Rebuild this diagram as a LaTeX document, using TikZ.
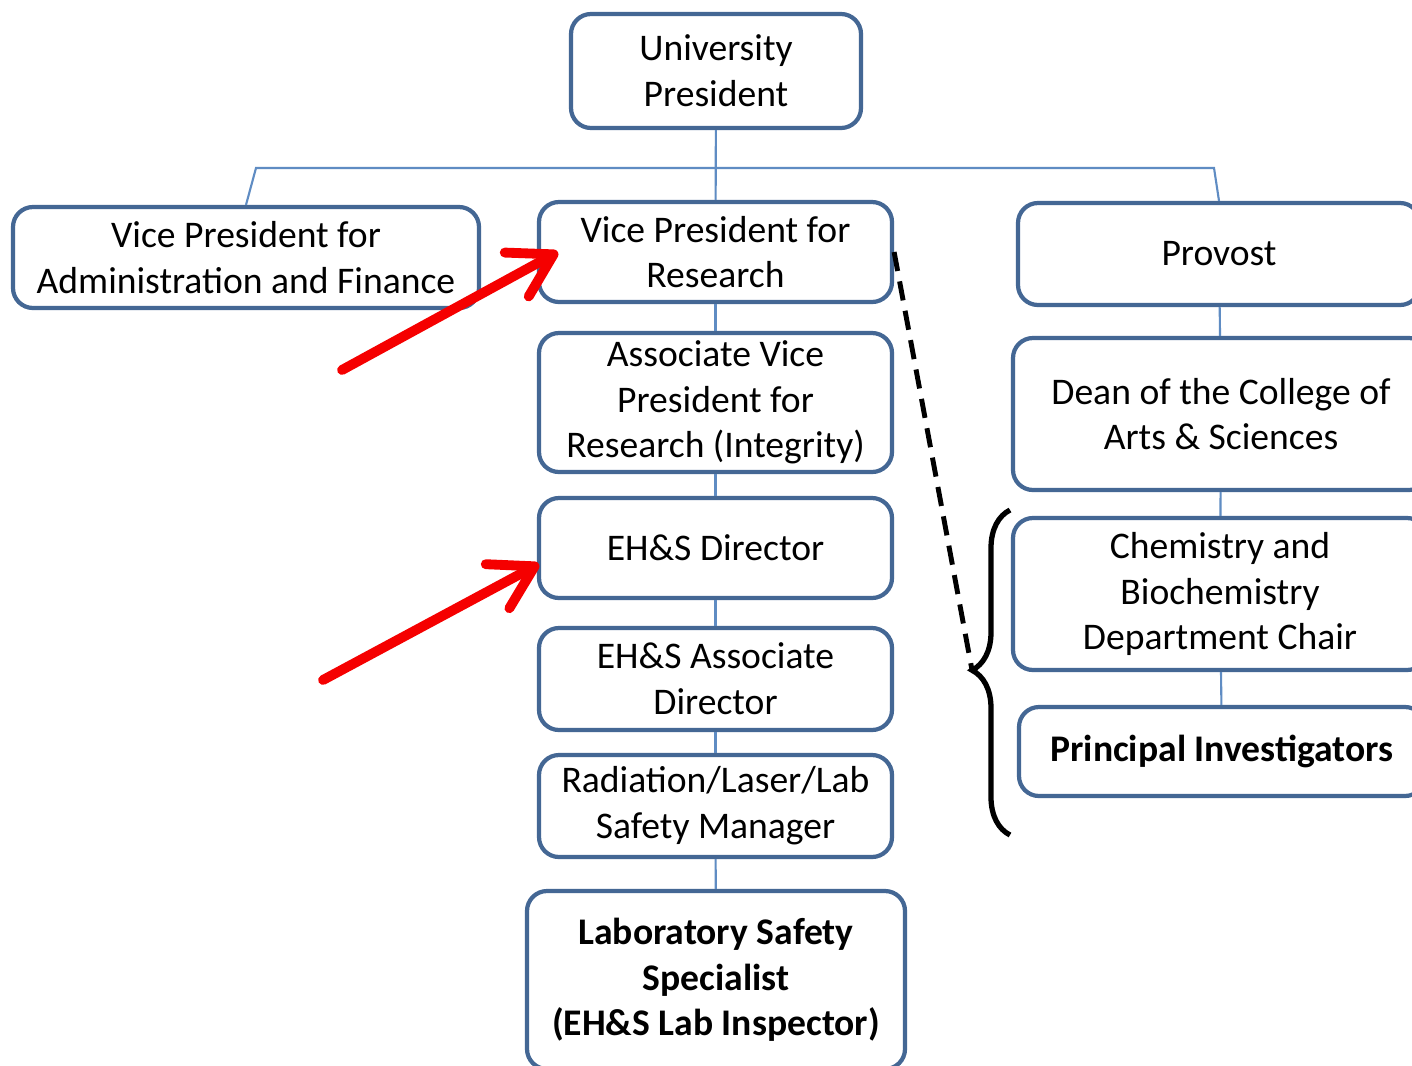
\documentclass[tikz,border=0pt]{standalone}
\usepackage{fontspec}
\setmainfont{Carlito}
\usetikzlibrary{arrows.meta,decorations.pathreplacing}

\definecolor{boxline}{RGB}{68,103,148}
\definecolor{linkline}{RGB}{95,140,195}
\definecolor{pointer}{RGB}{245,0,0}

\tikzset{
  post/.style={draw=boxline,line width=1.2pt,rounded corners=0.2cm,fill=white,
    align=center,inner sep=0pt,font=\fontsize{10.7}{13}\selectfont},
  link/.style={draw=linkline,line width=0.6pt},
  marker/.style={draw=pointer,line width=2.8pt,line cap=round,
    -{Straight Barb[length=4.2mm,width=5mm,round]}},
}

\begin{document}
\begin{tikzpicture}
  \clip (0,0) rectangle (14.12,-10.65);
  \fill[white] (0,0) rectangle (14.12,-10.65);

  \node[post,minimum width=2.90cm,minimum height=1.14cm] (pres) at (7.16,-0.71) {University\\President};
  \node[post,minimum width=4.66cm,minimum height=1.01cm] (vpaf) at (2.46,-2.575) {Vice President for\\Administration and Finance};
  \node[post,minimum width=3.53cm,minimum height=1.00cm] (vpr) at (7.155,-2.52) {Vice President for\\Research};
  \node[post,minimum width=4.02cm,minimum height=1.02cm] (provost) at (12.19,-2.54) {Provost};

  \node[post,minimum width=3.53cm,minimum height=1.39cm] (avp) at (7.155,-4.025) {Associate Vice\\President for\\Research (Integrity)};
  \node[post,minimum width=3.53cm,minimum height=1.00cm] (ehsd) at (7.155,-5.48) {EH\&S Director};
  \node[post,minimum width=3.53cm,minimum height=1.02cm] (ehsa) at (7.155,-6.79) {EH\&S Associate\\Director};
  \node[post,minimum width=3.53cm,minimum height=1.02cm] (rlsm) at (7.155,-8.06) {Radiation/Laser/Lab\\Safety Manager};
  \node[post,minimum width=3.78cm,minimum height=1.78cm,font=\fontsize{10.7}{13}\selectfont\bfseries] (lss) at (7.16,-9.80) {Laboratory Safety\\Specialist\\(EH\&S Lab Inspector)};

  \node[post,minimum width=4.16cm,minimum height=1.52cm] (dean) at (12.21,-4.14) {Dean of the College of\\Arts \& Sciences};
  \node[post,minimum width=4.14cm,minimum height=1.52cm] (chem) at (12.20,-5.94) {Chemistry and\\Biochemistry\\Department Chair};
  \node[post,minimum width=4.06cm,minimum height=0.89cm,font=\fontsize{10.7}{13}\selectfont\bfseries] (pi) at (12.22,-7.515) {Principal Investigators};

  % reporting lines
  \coordinate (barL) at (2.56,-1.68);
  \coordinate (barR) at (12.14,-1.68);
  \draw[link] (pres) -- (vpr);
  \draw[link] (vpaf.north) -- (barL) -- (barR) -- (provost.north);
  \draw[link] (vpr) -- (avp);
  \draw[link] (avp) -- (ehsd);
  \draw[link] (ehsd) -- (ehsa);
  \draw[link] (ehsa) -- (rlsm);
  \draw[link] (rlsm) -- (lss);
  \draw[link] (provost) -- (dean);
  \draw[link] (dean) -- (chem);
  \draw[link] (chem) -- (pi);

  % brace and dashed tie
  \coordinate (braceB) at (10.10,-8.35);
  \coordinate (braceT) at (10.10,-5.10);
  \coordinate (braceTip) at (9.72,-6.70);
  \draw[line width=1.5pt,decorate,decoration={brace,amplitude=0.38cm,aspect=0.507}] (braceB) -- (braceT);
  \draw[line width=1.4pt,dash pattern=on 5.5pt off 3pt] (vpr.east) -- (braceTip);

  % pointers
  \coordinate (tail1) at (3.42,-3.70);
  \coordinate (tail2) at (3.23,-6.80);
  \coordinate (tip1) at ([xshift=0.21cm]vpr.west);
  \coordinate (tip2) at ([xshift=0.02cm,yshift=-0.16cm]ehsd.west);
  \draw[marker] (tail1) -- (tip1);
  \draw[marker] (tail2) -- (tip2);
\end{tikzpicture}
\end{document}
